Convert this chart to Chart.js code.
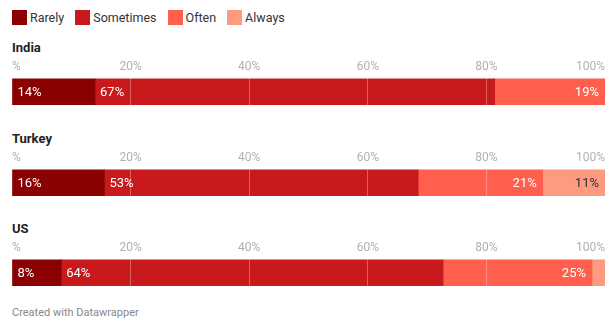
<!DOCTYPE html>
<html>
<head>
<meta charset="utf-8">
<script src="https://cdn.jsdelivr.net/npm/chart.js@4/dist/chart.umd.min.js"></script>
<style>
  html, body { margin: 0; padding: 0; background: #fff; width: 614px; height: 322px; overflow: hidden; font-family: Roboto, "Noto Sans", sans-serif; }
  .legend { position: absolute; left: 12px; top: 10px; display: flex; align-items: center; font-size: 12.5px; color: #333; }
  .legend .item { display: flex; align-items: center; margin-right: 11px; }
  .legend .sw { width: 15px; height: 15px; margin-right: 3px; }
  .title { position: absolute; left: 12px; font-size: 13px; font-weight: bold; color: #222; }
  .wrap { position: absolute; left: 0; width: 614px; }
  .footer { position: absolute; left: 12px; top: 306px; font-size: 11px; color: #888; }
</style>
</head>
<body>
<div class="legend" id="legend"></div>
<div id="charts"></div>
<div class="footer">Created with Datawrapper</div>
<script>
// ---- data ----
const categories = ["India", "Turkey", "US"];
const seriesNames = ["Rarely", "Sometimes", "Often", "Always"];
const rarely    = [14.0, 15.6, 8.3];
const sometimes = [67.4, 52.9, 64.4];
const often     = [18.6, 21.0, 25.1];
const always    = [0,    10.5, 2.2];
const tickValues = [0, 20, 40, 60, 80, 100];

// ---- styles ----
const colors = ["#8b0000", "#c81a1c", "#ff5f4c", "#fd9a80"];
const labelColors = ["#ffffff", "#ffffff", "#ffffff", "#333333"];
const seriesData = [rarely, sometimes, often, always];

Chart.defaults.font.family = "Roboto, 'Noto Sans', sans-serif";

// legend
const legendEl = document.getElementById('legend');
seriesNames.forEach((n, i) => {
  const it = document.createElement('div'); it.className = 'item';
  const sw = document.createElement('div'); sw.className = 'sw'; sw.style.background = colors[i];
  const tx = document.createElement('span'); tx.textContent = n;
  it.appendChild(sw); it.appendChild(tx); legendEl.appendChild(it);
});

const labelPlugin = {
  id: 'segLabels',
  afterDatasetsDraw(chart) {
    const ctx = chart.ctx;
    ctx.save();
    ctx.font = "13px Roboto, 'Noto Sans', sans-serif";
    ctx.textBaseline = 'middle';
    chart.data.datasets.forEach((ds, i) => {
      const meta = chart.getDatasetMeta(i);
      meta.data.forEach((el, j) => {
        const v = ds.data[j];
        if (!v) return;
        const txt = Math.round(v) + '%';
        const left = Math.min(el.base, el.x), right = Math.max(el.base, el.x);
        const w = ctx.measureText(txt).width;
        if (right - left < w + 8) return;
        ctx.fillStyle = labelColors[i];
        if (i < 2) { ctx.textAlign = 'left'; ctx.fillText(txt, left + 5, el.y + 1); }
        else { ctx.textAlign = 'right'; ctx.fillText(txt, right - 6, el.y + 1); }
      });
    });
    ctx.restore();
  }
};

const chartsEl = document.getElementById('charts');
const offsets = [0, 91, 181];
categories.forEach((cat, k) => {
  const top = offsets[k];
  const t = document.createElement('div'); t.className = 'title';
  t.style.top = (40 + top) + 'px'; t.textContent = cat;
  chartsEl.appendChild(t);
  const wrap = document.createElement('div'); wrap.className = 'wrap';
  wrap.style.top = (56 + top) + 'px';
  const cv = document.createElement('canvas');
  cv.width = 614; cv.height = 49;
  cv.style.width = '614px'; cv.style.height = '49px';
  wrap.appendChild(cv); chartsEl.appendChild(wrap);

  new Chart(cv, {
    type: 'bar',
    data: {
      labels: [cat],
      datasets: seriesNames.map((n, i) => ({
        label: n,
        data: [seriesData[i][k]],
        backgroundColor: colors[i],
        borderWidth: 0,
        barPercentage: 1,
        categoryPercentage: 1
      }))
    },
    options: {
      indexAxis: 'y',
      responsive: false,
      animation: false,
      devicePixelRatio: 1,
      layout: { padding: { left: 12, right: 9, top: 0, bottom: 0 } },
      plugins: { legend: { display: false }, tooltip: { enabled: false } },
      scales: {
        x: {
          position: 'top',
          stacked: true,
          min: 0, max: 100,
          z: 1,
          afterBuildTicks: (axis) => { axis.ticks = tickValues.map(v => ({ value: v })); },
          ticks: {
            align: 'inner',
            padding: 4,
            color: '#b0b0b0',
            font: { size: 12 },
            maxRotation: 0,
            autoSkip: false,
            callback: (v) => v === 0 ? '%' : v + '%'
          },
          grid: {
            z: 1,
            drawTicks: false,
            color: (c) => (c.tick && (c.tick.value === 0 || c.tick.value === 100)) ? 'rgba(0,0,0,0)' : 'rgba(255,255,255,0.3)',
            lineWidth: 1
          },
          border: { display: false }
        },
        y: { stacked: true, display: false }
      }
    },
    plugins: [labelPlugin]
  });
});
</script>
</body>
</html>
